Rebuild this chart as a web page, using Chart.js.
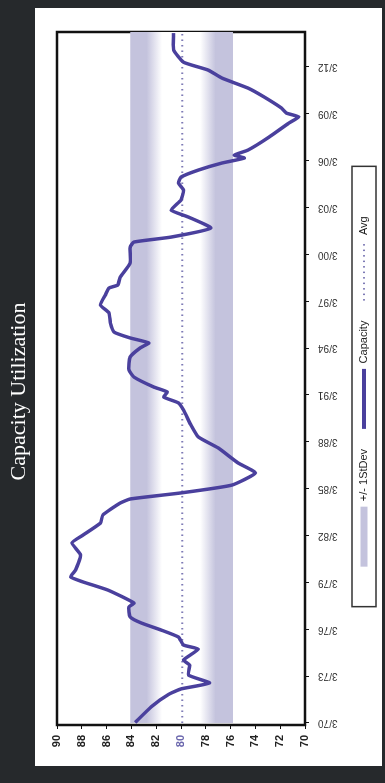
<!DOCTYPE html>
<html>
<head>
<meta charset="utf-8">
<title>Capacity Utilization</title>
<script src="https://cdn.jsdelivr.net/npm/chart.js@4.4.1/dist/chart.umd.min.js"></script>
<style>
  html, body { margin: 0; padding: 0; background: #26292c; }
  body { width: 385px; height: 783px; overflow: hidden; position: relative; }
  /* the chart is laid out landscape and turned a quarter turn, like the scan */
  #wrap {
    position: absolute; left: 0; top: 0;
    width: 783px; height: 385px;
    transform-origin: 0 0;
    transform: translate(0, 783px) rotate(-90deg);
  }
</style>
</head>
<body>
<div id="wrap"><canvas id="chart" width="783" height="385"></canvas></div>
<script>
// tick labels on the date axis (every 3 years, March)
const tickLabels = ['3/70', '3/73', '3/76', '3/79', '3/82', '3/85', '3/88', '3/91', '3/94', '3/97', '3/00', '3/03', '3/06', '3/09', '3/12'];
const tickYears = [1970.17, 1973.17, 1976.17, 1979.17, 1982.17, 1985.17, 1988.17, 1991.17, 1994.17, 1997.17, 2000.17, 2003.17, 2006.17, 2009.17, 2012.17];

// capacity utilization (decimal year, percent)
const years = [1970.2, 1971.2, 1972.0, 1972.35, 1972.73, 1973.24, 1973.88, 1974.2, 1974.9, 1975.16,
  1975.67, 1976.12, 1976.57, 1976.96, 1977.6, 1977.85, 1978.68, 1979.2, 1979.52, 1979.97,
  1980.93, 1981.7, 1982.2, 1982.97, 1983.49, 1984.25, 1984.51, 1984.9, 1985.4, 1986.18,
  1986.82, 1987.78, 1988.48, 1989.25, 1990.21, 1990.66, 1991.04, 1991.36, 1991.68, 1992.32,
  1992.77, 1993.6, 1994.18, 1994.5, 1994.82, 1995.2, 1995.78, 1996.42, 1996.93, 1997.57,
  1998.02, 1998.21, 1998.72, 1999.62, 2000.64, 2000.96, 2001.28, 2001.86, 2002.56, 2003.01,
  2003.65, 2004.29, 2004.74, 2005.12, 2005.57, 2006.02, 2006.34, 2006.53, 2006.85, 2007.68,
  2008.58, 2008.97, 2009.22, 2009.54, 2010.25, 2010.82, 2011.46, 2011.97, 2012.48, 2013.26,
  2014.34];
const capacity = [83.7, 82.4, 81.0, 80.0, 77.7, 79.4, 79.3, 79.8, 78.6, 79.8,
  80.2, 81.6, 83.2, 84.1, 84.2, 83.8, 85.9, 87.9, 88.9, 88.5,
  88.1, 88.8, 87.9, 86.5, 86.3, 84.9, 84.1, 80.0, 75.9, 74.0,
  75.4, 77.0, 78.6, 79.2, 79.8, 80.2, 81.4, 81.1, 82.2, 83.8,
  84.2, 84.1, 83.3, 82.6, 84.1, 85.4, 85.7, 85.8, 86.5, 86.1,
  85.8, 85.1, 84.9, 84.1, 84.1, 83.8, 80.8, 77.6, 79.4, 80.8,
  80.0, 79.8, 80.2, 80.0, 78.6, 76.7, 74.9, 75.7, 74.6, 72.9,
  71.3, 70.5, 71.5, 71.9, 73.3, 74.6, 76.7, 77.8, 79.8, 80.6,
  80.6];

const avgValue = 79.9;
const bandUpper = 84.1;
const bandLower = 75.8;

const xMin = 1970.04;
const xMax = 2014.41;

const purple = '#4a409d';
const bandColor = '#c4c3dd';
const avgColor = '#7d7ab5';

// +/- 1 stdev band: lavender at the edges, fading to white toward the mean
function bandFill(context) {
  const chart = context.chart;
  if (!chart.chartArea) return bandColor;
  const y = chart.scales.y;
  const top = y.getPixelForValue(bandUpper);
  const bottom = y.getPixelForValue(bandLower);
  const g = chart.ctx.createLinearGradient(0, top, 0, bottom);
  g.addColorStop(0, bandColor);
  g.addColorStop(0.16, bandColor);
  g.addColorStop(0.31, '#ffffff');
  g.addColorStop(0.68, '#ffffff');
  g.addColorStop(0.83, bandColor);
  g.addColorStop(1, bandColor);
  return g;
}

const spanStart = tickYears[0];
const capacityPoints = years.map((x, i) => ({ x: x, y: capacity[i] }));

const legendEntries = [
  { text: '+/- 1StDev', color: bandColor, width: 7, dash: [] },
  { text: 'Capacity', color: purple, width: 4, dash: [] },
  { text: 'Avg', color: avgColor, width: 2, dash: [1.5, 4] },
];

const framePlugin = {
  id: 'frame',
  beforeDraw(chart) {
    const ctx = chart.ctx;
    ctx.save();
    ctx.fillStyle = '#ffffff';
    ctx.fillRect(17, 35, 758, 347);
    ctx.restore();
  },
  beforeDatasetsDraw(chart) {
    const a = chart.chartArea;
    const ctx = chart.ctx;
    ctx.save();
    ctx.strokeStyle = '#111';
    ctx.lineWidth = 2.5;
    ctx.strokeRect(a.left, a.top, a.right - a.left, a.bottom - a.top);
    ctx.restore();
  },
  afterDraw(chart) {
    // box round the legend
    const boxes = chart.legend.legendHitBoxes;
    if (!boxes || !boxes.length) return;
    const first = boxes[0];
    const last = boxes[boxes.length - 1];
    const cy = first.top + first.height / 2;
    const left = first.left - 40;
    const right = last.left + last.width + 50;
    const ctx = chart.ctx;
    ctx.save();
    ctx.strokeStyle = '#333';
    ctx.lineWidth = 1.5;
    ctx.strokeRect(left, cy - 12, right - left, 24);
    ctx.restore();
  }
};

new Chart(document.getElementById('chart'), {
  type: 'line',
  data: {
    datasets: [
      {
        label: 'Capacity',
        data: capacityPoints,
        borderColor: purple,
        borderWidth: 3.5,
        borderJoinStyle: 'round',
        pointRadius: 0,
        tension: 0.15,
        fill: false,
      },
      {
        label: 'Avg',
        data: [{ x: spanStart, y: avgValue }, { x: xMax, y: avgValue }],
        borderColor: avgColor,
        borderWidth: 2,
        borderDash: [1.5, 4],
        pointRadius: 0,
        fill: false,
      },
      {
        label: '+/- 1StDev',
        data: [{ x: spanStart, y: bandUpper }, { x: xMax, y: bandUpper }],
        borderWidth: 0,
        borderColor: 'rgba(0,0,0,0)',
        backgroundColor: bandFill,
        pointRadius: 0,
        fill: '+1',
      },
      {
        label: 'lower',
        data: [{ x: spanStart, y: bandLower }, { x: xMax, y: bandLower }],
        borderWidth: 0,
        borderColor: 'rgba(0,0,0,0)',
        pointRadius: 0,
        fill: false,
      },
    ],
  },
  options: {
    responsive: false,
    animation: false,
    layout: { padding: { left: 0, right: 0, top: 0, bottom: 5.5 } },
    plugins: {
      title: {
        display: true,
        text: 'Capacity Utilization',
        color: '#ffffff',
        font: { family: 'Liberation Serif', size: 22, weight: 'normal' },
        padding: { top: 6, bottom: 24.6 },
      },
      legend: {
        position: 'bottom',
        labels: {
          usePointStyle: true,
          pointStyleWidth: 60,
          padding: 20,
          color: '#222',
          font: { family: 'Liberation Sans', size: 11 },
          generateLabels: () => legendEntries.map((e) => ({
            text: e.text,
            fillStyle: e.color,
            strokeStyle: e.color,
            lineWidth: e.width,
            lineDash: e.dash,
            pointStyle: 'line',
            hidden: false,
            fontColor: '#222',
          })),
        },
        onClick: () => {},
      },
      tooltip: { enabled: false },
    },
    scales: {
      x: {
        type: 'linear',
        min: xMin,
        max: xMax,
        border: { display: false },
        grid: { display: true, drawOnChartArea: false, tickLength: 4, color: '#111' },
        afterBuildTicks: (scale) => {
          scale.ticks = tickYears.map((v) => ({ value: v }));
        },
        afterFit: (scale) => { scale.height = 33.5; },
        ticks: {
          autoSkip: false,
          minRotation: 90,
          maxRotation: 90,
          padding: 9,
          color: '#333',
          font: { family: 'Liberation Sans', size: 10 },
          callback: (value, index) => tickLabels[index],
        },
      },
      y: {
        min: 70,
        max: 90,
        border: { display: false },
        grid: { display: true, drawOnChartArea: false, tickLength: 4, color: '#111' },
        afterFit: (scale) => { scale.width = 58; },
        ticks: {
          stepSize: 2,
          padding: 6,
          color: (ctx) => (ctx.tick.value === 80 ? '#6b67ad' : '#222'),
          font: { family: 'Liberation Sans', size: 11, weight: 'bold' },
        },
      },
      y2: {
        position: 'right',
        display: true,
        border: { display: false },
        grid: { display: false },
        ticks: { display: false },
        afterFit: (scale) => { scale.width = 32; },
      },
    },
  },
  plugins: [framePlugin],
});
</script>
</body>
</html>
